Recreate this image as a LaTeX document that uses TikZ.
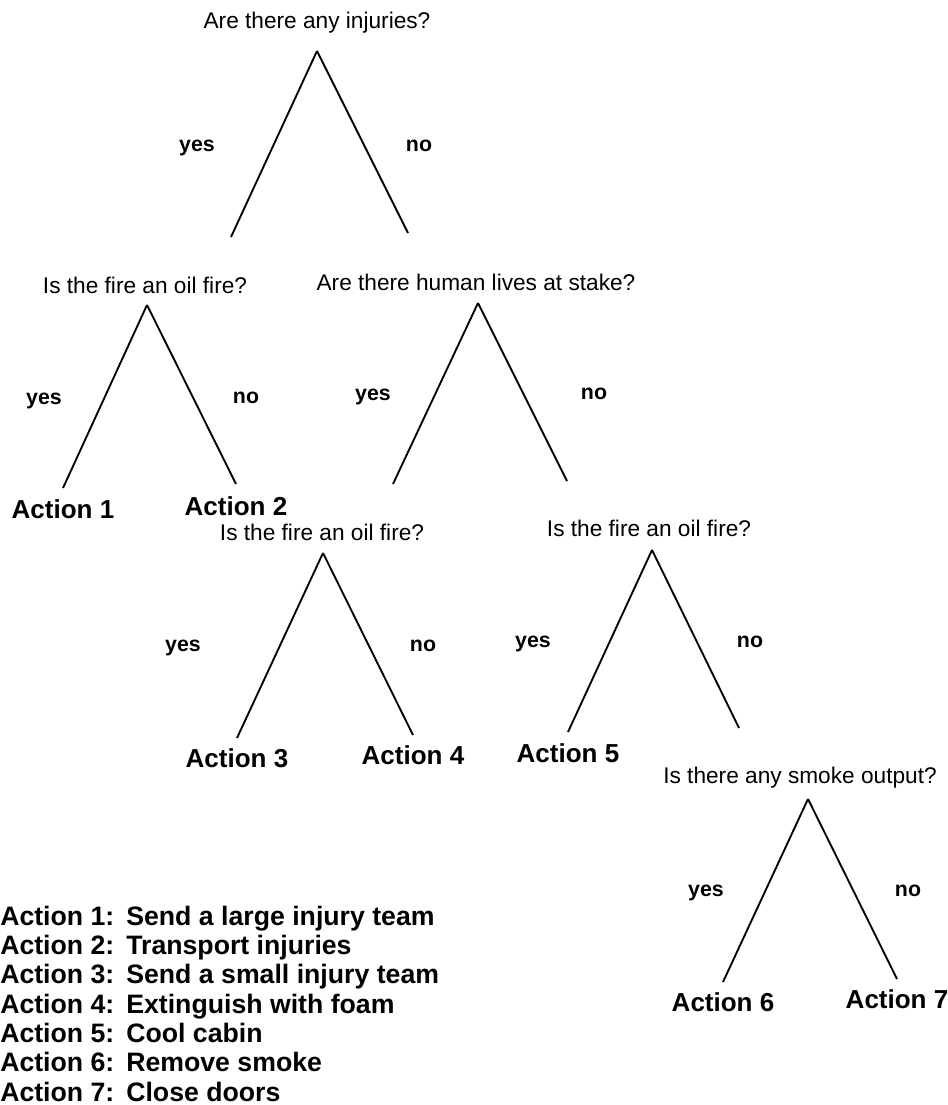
\documentclass[tikz,border=0pt]{standalone}
\usepackage{fontspec}
\setmainfont{Liberation Sans}
\usetikzlibrary{positioning}
\tikzstyle{question} = [inner sep=0pt, font=\fontsize{17pt}{20pt}\selectfont]
\tikzstyle{answer} = [inner sep=0pt, font=\bfseries\fontsize{16pt}{19pt}\selectfont]
\tikzstyle{action} = [inner sep=0pt, font=\bfseries\fontsize{19.5pt}{23pt}\selectfont]
\tikzstyle{key} = [inner sep=0pt, font=\bfseries\fontsize{20pt}{22pt}\selectfont]
\tikzstyle{branch} = [draw, line width=1.4pt]

\begin{document}
\begin{tikzpicture}[x=0.75pt, y=-0.75pt]
    \useasboundingbox (0,0) rectangle (948,1105);

    % injuries
    \coordinate (t1) at (317,51);
    \coordinate (t1l) at (231,237);
    \coordinate (t1r) at (408,233);
    \node[question] (q1) at (317,23) {Are there any injuries?};
    \node[answer] (y1) at (197,148) {yes};
    \node[answer] (n1) at (419,146) {no};

    % oil fire (left)
    \coordinate (t2) at (147,305);
    \coordinate (t2l) at (63,488);
    \coordinate (t2r) at (236,484);
    \node[question] (q2) at (145,285) {Is the fire an oil fire?};
    \node[answer] (y2) at (44,401) {yes};
    \node[answer] (n2) at (246,398) {no};
    \node[action,below=8.5pt of t2l] (a1) {Action 1};
    \node[action,below=9.5pt of t2r] (a2) {Action 2};

    % human lives
    \coordinate (t3) at (478,303);
    \coordinate (t3l) at (393,484);
    \coordinate (t3r) at (567,481);
    \node[question] (q3) at (476,282) {Are there human lives at stake?};
    \node[answer] (y3) at (373,397) {yes};
    \node[answer] (n3) at (594,394) {no};

    % oil fire (middle)
    \coordinate (t4) at (323,553);
    \coordinate (t4l) at (237,738);
    \coordinate (t4r) at (413,735);
    \node[question] (q4) at (322,532) {Is the fire an oil fire?};
    \node[answer] (y4) at (183,648) {yes};
    \node[answer] (n4) at (423,646) {no};
    \node[action,below=8pt of t4l] (a3) {Action 3};
    \node[action,below=8pt of t4r] (a4) {Action 4};

    % oil fire (right)
    \coordinate (t5) at (652,550);
    \coordinate (t5l) at (568,732);
    \coordinate (t5r) at (739,728);
    \node[question] (q5) at (649,528) {Is the fire an oil fire?};
    \node[answer] (y5) at (533,644) {yes};
    \node[answer] (n5) at (750,642) {no};
    \node[action,below=8.5pt of t5l] (a5) {Action 5};

    % smoke
    \coordinate (t6) at (808,799);
    \coordinate (t6l) at (723,982);
    \coordinate (t6r) at (897,979);
    \node[question] (q6) at (800,778) {Is there any smoke output?};
    \node[answer] (y6) at (706,893) {yes};
    \node[answer] (n6) at (908,891) {no};
    \node[action,below=8pt of t6l] (a6) {Action 6};
    \node[action,below=8pt of t6r] (a7) {Action 7};

    \foreach \t in {t1,t2,t3,t4,t5,t6} {
        \path[branch] (\t) -- (\t l);
        \path[branch] (\t) -- (\t r);
    }

    \node[key, anchor=base west] (legend) at (0,925) {%
        \begin{tabular}[t]{@{}l@{\hspace{9pt}}l@{}}
        Action 1: & Send a large injury team\\
        Action 2: & Transport injuries\\
        Action 3: & Send a small injury team\\
        Action 4: & Extinguish with foam\\
        Action 5: & Cool cabin\\
        Action 6: & Remove smoke\\
        Action 7: & Close doors\\[-8pt]
        \end{tabular}};
\end{tikzpicture}
\end{document}
